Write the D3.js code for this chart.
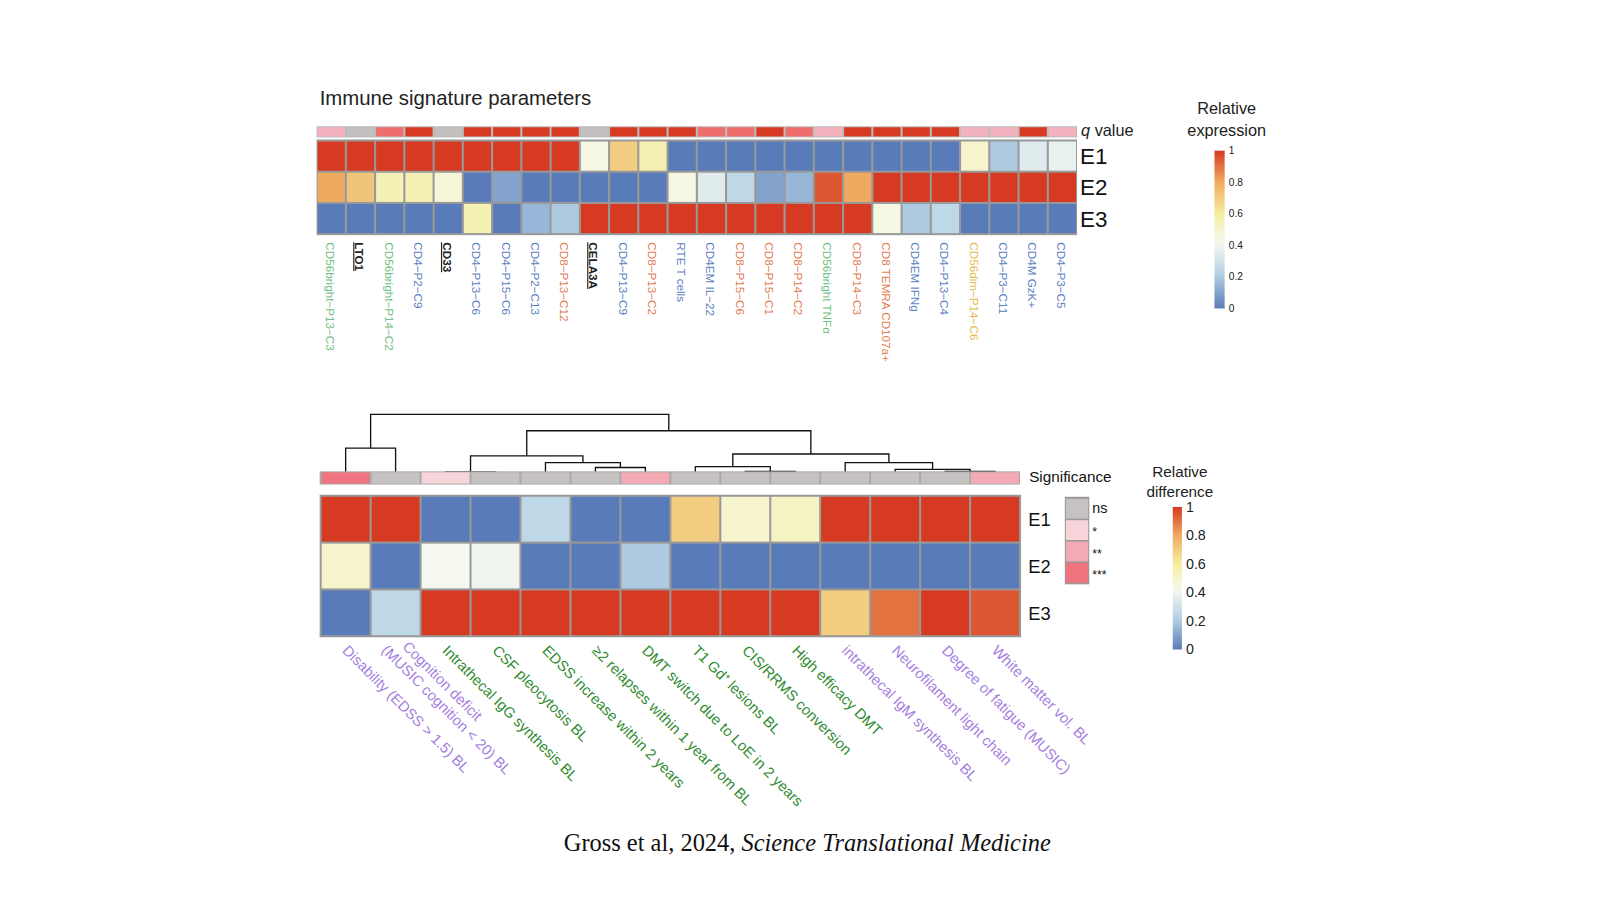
<!DOCTYPE html>
<html><head><meta charset="utf-8">
<script src="https://cdn.jsdelivr.net/npm/d3@7"></script>
<style>body{margin:0;background:#fff}svg{font-family:Arial,"Liberation Sans",sans-serif}</style>
</head><body><svg id="c" width="1600" height="900"></svg>
<script>
// top panel
const topLabels = ["CD56bright−P13−C3","LTO1","CD56bright−P14−C2","CD4−P2−C9","CD33","CD4−P13−C6","CD4−P15−C6","CD4−P2−C13","CD8−P13−C12","CELA3A","CD4−P13−C9","CD8−P13−C2","RTE T cells","CD4EM IL−22","CD8−P15−C6","CD8−P15−C1","CD8−P14−C2","CD56bright TNFα","CD8−P14−C3","CD8 TEMRA CD107a+","CD4EM IFNg","CD4−P13−C4","CD56dim−P14−C6","CD4−P3−C11","CD4M GzK+","CD4−P3−C5"];
const topGroups = ["g","k","g","b","k","b","b","b","o","k","b","o","b","b","o","o","o","g","o","o","b","b","y","b","b","b"];
const topQ = ["p","n","s","r","n","r","r","r","r","n","r","r","r","s","s","r","s","p","r","r","r","r","p","p","r","p"];
const topE1 = [1,1,1,1,1,1,1,1,1,0.45,0.7,0.55,0,0,0,0,0,0,0,0,0,0,0.5,0.2,0.35,0.38];
const topE2 = [0.8,0.72,0.55,0.55,0.48,0,0.1,0,0,0,0,0,0.45,0.35,0.25,0.1,0.15,0.95,0.8,1,1,1,1,1,1,1];
const topE3 = [0,0,0,0,0,0.55,0,0.15,0.2,1,1,1,1,1,1,1,1,1,1,0.45,0.2,0.25,0,0,0,0];
const rows = ["E1","E2","E3"];
// bottom panel
const botLabels = [["Disability (EDSS > 1.5) BL"],["Cognition deficit","(MUSIC cognition < 20) BL"],["Intrathecal IgG synthesis BL"],["CSF pleocytosis BL"],["EDSS increase within 2 years"],["≥2 relapses within 1 year from BL"],["DMT switch due to LoE in 2 years"],["T1 Gd⁺ lesions BL"],["CIS/RRMS conversion"],["High efficacy DMT"],["intrathecal IgM synthesis BL"],["Neurofilament light chain"],["Degree of fatigue (MUSIC)"],["White matter vol. BL"]];
const botGroups = ["p","p","G","G","G","G","G","G","G","G","p","p","p","p"];
const botSig = ["***","ns","*","ns","ns","ns","**","ns","ns","ns","ns","ns","ns","**"];
const botE1 = [1,1,0,0,0.25,0,0,0.7,0.5,0.52,1,1,1,1];
const botE2 = [0.5,0,0.42,0.4,0,0,0.2,0,0,0,0,0,0,0];
const botE3 = [0,0.25,1,1,1,1,1,1,1,1,0.7,0.9,1,0.95];
const sigLevels = ["ns","*","**","***"];
// dendrogram (merge heights)
const dendro = {h:60,c:[{h:25,c:[{i:0},{i:1}]},{h:43,c:[{h:17,c:[{h:0.5,c:[{i:2},{i:3}]},{h:10,c:[{i:4},{h:5,c:[{i:5},{i:6}]}]}]},{h:19,c:[{h:6,c:[{i:7},{h:1,c:[{i:8},{i:9}]}]},{h:10,c:[{i:10},{h:3,c:[{i:11},{h:1,c:[{i:12},{i:13}]}]}]}]}]}]};
const ticks = [0,0.2,0.4,0.6,0.8,1];

const svg0 = d3.select("#c");
const svg = svg0.append("g").attr("transform","scale(1.018)");
const color = d3.scaleLinear().domain([0,0.22,0.42,0.6,0.8,1])
  .range(["#5a7bb9","#b5d2e5","#f6f9f0","#f5ee9f","#efaa60","#d73a22"]).clamp(true);
const txtCol = {g:"#6fbf80",G:"#2f8a2f",k:"#222",b:"#5b80c0",o:"#e27c52",y:"#e8b94a",p:"#a57de0"};
const qCol = {r:"#d73a22",s:"#ee6d6d",p:"#f3b2bd",n:"#c3bfbe"};
const sigCol = {"ns":"#c6c2c1","*":"#f7d3da","**":"#f3aab4","***":"#ef7480"};

// ---- top heatmap
const tx = d3.scaleBand().domain(d3.range(26)).range([311,1058]);
const ty = d3.scaleBand().domain(rows).range([138,230]);
svg.append("text").attr("x",314).attr("y",103).attr("font-size",20).attr("fill","#222").text("Immune signature parameters");
svg.append("rect").attr("x",311).attr("y",124).attr("width",747).attr("height",11).attr("fill","#bbb");
svg.append("g").selectAll("rect").data(topQ).join("rect")
  .attr("x",(d,i)=>tx(i)+1).attr("y",125).attr("width",tx.bandwidth()-2).attr("height",9).attr("fill",d=>qCol[d]);
const topVals = [topE1,topE2,topE3];
svg.append("rect").attr("x",311).attr("y",137).attr("width",747).attr("height",94).attr("fill","#999");
rows.forEach((r,ri)=>{
  svg.append("g").selectAll("rect").data(topVals[ri]).join("rect")
    .attr("x",(d,i)=>tx(i)+1).attr("y",ty(r)+1).attr("width",tx.bandwidth()-2).attr("height",ty.bandwidth()-2)
    .attr("fill",d=>color(d));
  svg.append("text").attr("x",1061).attr("y",ty(r)+ty.bandwidth()/2+8).attr("font-size",22).attr("fill","#111").text(r);
});
svg.append("text").attr("x",1062).attr("y",134).attr("font-size",16).attr("fill","#222")
  .html('<tspan font-style="italic">q</tspan> value');
svg.append("g").selectAll("text").data(topLabels).join("text")
  .attr("transform",(d,i)=>`translate(${tx(i)+tx.bandwidth()/2-5},238) rotate(90)`)
  .attr("font-size",11.5).attr("fill",(d,i)=>txtCol[topGroups[i]])
  .attr("text-decoration",(d,i)=>topGroups[i]==="k"?"underline":null)
  .attr("font-weight",(d,i)=>topGroups[i]==="k"?"bold":null)
  .text(d=>d);
// legends
const defs = svg.append("defs");
const grad = defs.append("linearGradient").attr("id","gr").attr("x1",0).attr("x2",0).attr("y1",1).attr("y2",0);
d3.range(0,1.01,0.05).forEach(t=>grad.append("stop").attr("offset",t).attr("stop-color",color(t)));
function legend(x,y0,y1,w,fs,title,tx0,ty0,lh){
  const s = d3.scaleLinear().domain([0,1]).range([y1,y0]);
  svg.append("rect").attr("x",x).attr("y",y0).attr("width",w).attr("height",y1-y0).attr("fill","url(#gr)");
  svg.append("g").selectAll("text").data(ticks).join("text")
    .attr("x",x+w+4).attr("y",d=>s(d)+fs*0.35).attr("font-size",fs).attr("fill","#222").text(d=>d);
  title.forEach((t,i)=>svg.append("text").attr("x",tx0).attr("y",ty0+i*lh).attr("text-anchor","middle")
    .attr("font-size",fs===10?16:15).attr("fill","#222").text(t));
}
legend(1193,148,303,10,10,["Relative","expression"],1205,112,22);

// ---- bottom heatmap
const bx = d3.scaleBand().domain(d3.range(14)).range([315,1002]);
const by = d3.scaleBand().domain(rows).range([487,625]);
const dy = d3.scaleLinear().domain([0,60]).range([464,407]);
const root = d3.hierarchy(dendro,d=>d.c);
root.eachAfter(n=>{
  if(!n.children){n.px=bx(n.data.i)+bx.bandwidth()/2;n.py=464;}
  else{n.px=d3.mean(n.children,c=>c.px);n.py=dy(n.data.h);}
});
const dg = svg.append("g").attr("fill","none").attr("stroke","#111").attr("stroke-width",1.3);
root.each(n=>{
  if(n.children){
    const [a,b]=n.children;
    dg.append("path").attr("d",`M${a.px},${a.py}V${n.py}H${b.px}V${b.py}`);
  }
});
svg.append("rect").attr("x",314).attr("y",463).attr("width",688).attr("height",13).attr("fill","#aaa");
svg.append("g").selectAll("rect").data(botSig).join("rect")
  .attr("x",(d,i)=>bx(i)+1).attr("y",464).attr("width",bx.bandwidth()-2).attr("height",11).attr("fill",d=>sigCol[d]);
svg.append("text").attr("x",1011).attr("y",473).attr("font-size",15).attr("fill","#111").text("Significance");
const botVals = [botE1,botE2,botE3];
svg.append("rect").attr("x",314).attr("y",486).attr("width",689).attr("height",140).attr("fill","#999");
rows.forEach((r,ri)=>{
  svg.append("g").selectAll("rect").data(botVals[ri]).join("rect")
    .attr("x",(d,i)=>bx(i)+1).attr("y",by(r)+1).attr("width",bx.bandwidth()-2).attr("height",by.bandwidth()-2)
    .attr("fill",d=>color(d));
  svg.append("text").attr("x",1010).attr("y",by(r)+by.bandwidth()/2+7).attr("font-size",18).attr("fill","#111").text(r);
});
const bl = svg.append("g").selectAll("text").data(botLabels).join("text")
  .attr("transform",(d,i)=>`translate(${bx(i)+bx.bandwidth()/2-(d.length>1?-6:4)},${d.length>1?636:640}) rotate(45)`)
  .attr("font-size",14.5).attr("fill",(d,i)=>txtCol[botGroups[i]]);
bl.selectAll("tspan").data(d=>d).join("tspan").attr("x",(d,j)=>-j*12).attr("dy",(d,j)=>j?17:0).text(d=>d);
const sy = d3.scaleBand().domain(sigLevels).range([489,573]);
svg.append("rect").attr("x",1046).attr("y",488).attr("width",24).attr("height",86).attr("fill","#999");
sigLevels.forEach(s=>{
  svg.append("rect").attr("x",1047).attr("y",sy(s)+1).attr("width",22).attr("height",sy.bandwidth()-1.5).attr("fill",sigCol[s]);
  svg.append("text").attr("x",1073).attr("y",sy(s)+(s==="ns"?15:17)).attr("font-size",s==="ns"?14:12).attr("fill","#111").text(s);
});
legend(1152,498,638,9,14,["Relative","difference"],1159,469,19);

svg.append("text").attr("x",793).attr("y",836).attr("text-anchor","middle").attr("font-family","Liberation Serif,Times New Roman,serif")
  .attr("font-size",24).attr("fill","#111").html('Gross et al, 2024, <tspan font-style="italic">Science Translational Medicine</tspan>');
</script></body></html>
